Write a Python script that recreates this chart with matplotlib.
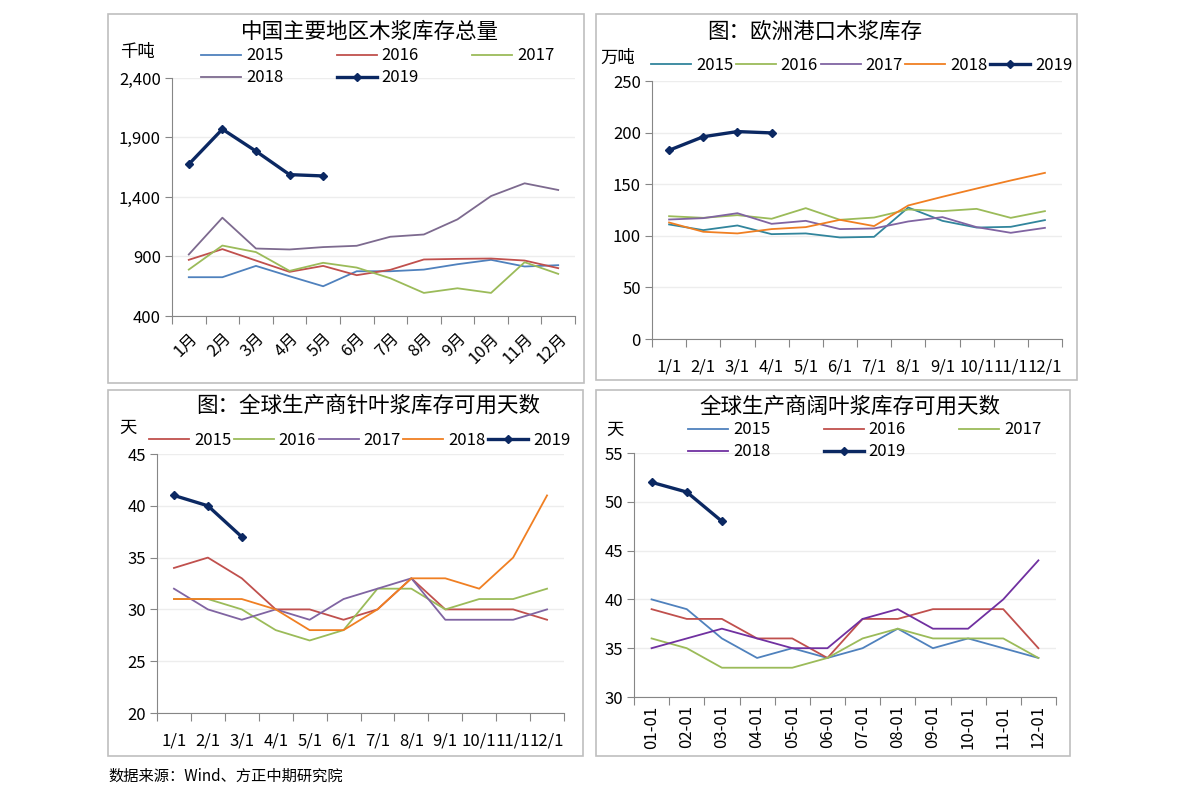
import matplotlib
matplotlib.use('Agg')
import matplotlib.pyplot as plt
from matplotlib.patches import Rectangle

plt.rcParams['font.family'] = ['Noto Sans CJK SC', 'DejaVu Sans']

W, H = 1191, 805

# ---------------- data ----------------
months_cn = ['1月', '2月', '3月', '4月', '5月', '6月', '7月', '8月', '9月', '10月', '11月', '12月']
months_slash = ['1/1', '2/1', '3/1', '4/1', '5/1', '6/1', '7/1', '8/1', '9/1', '10/1', '11/1', '12/1']
months_dash = ['01-01', '02-01', '03-01', '04-01', '05-01', '06-01',
               '07-01', '08-01', '09-01', '10-01', '11-01', '12-01']

# 中国主要地区木浆库存总量 (千吨)
cn_2015 = [726, 726, 821, 734, 650, 776, 776, 790, 835, 872, 816, 827]
cn_2016 = [872, 962, 866, 771, 821, 743, 788, 875, 880, 883, 866, 802]
cn_2017 = [790, 992, 937, 779, 847, 807, 717, 594, 633, 594, 852, 754]
cn_2018 = [917, 1226, 967, 959, 979, 990, 1066, 1085, 1212, 1408, 1515, 1459]
cn_2019 = [1675, 1970, 1785, 1588, 1577]

# 欧洲港口木浆库存 (万吨)
eu_2015 = [111, 105.5, 110, 101.6, 102.3, 98.4, 99, 127.4, 114.5, 108, 108.7, 115.2]
eu_2016 = [119, 117.4, 120, 116.5, 126.8, 115.5, 117.7, 125.5, 123.9, 126.1, 117.4, 123.9]
eu_2017 = [115.8, 117.1, 121.9, 111.6, 114.5, 106.5, 107.1, 113.9, 118.1, 108.4, 102.9, 107.7]
eu_2018 = [112.9, 103.9, 102.3, 106.5, 108.4, 115.5, 109.4, 129.4, 137.8, 145.8, 153.6, 161]
eu_2019 = [182.9, 196, 201, 199.7]

# 全球生产商针叶浆库存可用天数
sw_2015 = [34, 35, 33, 30, 30, 29, 30, 33, 30, 30, 30, 29]
sw_2016 = [31, 31, 30, 28, 27, 28, 32, 32, 30, 31, 31, 32]
sw_2017 = [32, 30, 29, 30, 29, 31, 32, 33, 29, 29, 29, 30]
sw_2018 = [31, 31, 31, 30, 28, 28, 30, 33, 33, 32, 35, 41]
sw_2019 = [41, 40, 37]

# 全球生产商阔叶浆库存可用天数
hw_2015 = [40, 39, 36, 34, 35, 34, 35, 37, 35, 36, 35, 34]
hw_2016 = [39, 38, 38, 36, 36, 34, 38, 38, 39, 39, 39, 35]
hw_2017 = [36, 35, 33, 33, 33, 34, 36, 37, 36, 36, 36, 34]
hw_2018 = [35, 36, 37, 36, 35, 35, 38, 39, 37, 37, 40, 44]
hw_2019 = [52, 51, 48]

years = ['2015', '2016', '2017', '2018', '2019']
NAVY = '#0B2862'

fig = plt.figure(figsize=(W / 100, H / 100), dpi=100)


def px_axes(x0, y0, x1, y1):
    return fig.add_axes([x0 / W, 1 - y1 / H, (x1 - x0) / W, (y1 - y0) / H])


def box(x0, y0, x1, y1):
    fig.patches.append(Rectangle((x0 / W, 1 - y1 / H), (x1 - x0) / W, (y1 - y0) / H,
                                 transform=fig.transFigure, fill=False,
                                 edgecolor='#BFBFBF', linewidth=1.2))


def ftext(x, y, s, **kw):
    fig.text(x / W, 1 - y / H, s, **kw)


def draw_panel(ax, series, colors, ylim, yticks, labels, yfmt=None):
    lines = []
    for i, (vals, col) in enumerate(zip(series, colors)):
        xs = list(range(len(vals)))
        if i == len(series) - 1:
            ln, = ax.plot(xs, vals, color=col, linewidth=2.4, marker='D', markersize=4, zorder=5)
        else:
            ln, = ax.plot(xs, vals, color=col, linewidth=1.3, zorder=3)
        lines.append(ln)
    ax.set_xlim(-0.5, 11.5)
    ax.set_ylim(*ylim)
    ax.set_yticks(yticks)
    if yfmt:
        ax.set_yticklabels([yfmt(v) for v in yticks])
    ax.set_xticks([i - 0.5 for i in range(13)])
    ax.set_xticklabels([])
    ax.set_xticks(range(12), minor=True)
    ax.set_xticklabels(labels, minor=True)
    ax.tick_params(axis='x', which='major', length=6, color='#868686', direction='out')
    ax.tick_params(axis='x', which='minor', length=0, labelsize=12, pad=6)
    ax.tick_params(axis='y', length=5, color='#868686', labelsize=12, pad=3)
    ax.grid(axis='y', color='#EDEDED', linewidth=1)
    ax.set_axisbelow(True)
    for s in ['top', 'right']:
        ax.spines[s].set_visible(False)
    for s in ['left', 'bottom']:
        ax.spines[s].set_color('#868686')
    ax.patch.set_alpha(0)
    return lines


def legend_rows(lines, x, y, ncol, colsp):
    # matplotlib fills legends column by column; reorder so rows read 2015..2019
    if ncol == 3:
        order = [0, 3, 1, 4, 2]
    else:
        order = list(range(len(lines)))
    fig.legend([lines[i] for i in order], [years[i] for i in order], ncol=ncol,
               loc='center left', bbox_to_anchor=(x / W, 1 - y / H),
               frameon=False, fontsize=12, handlelength=2.4, handletextpad=0.3,
               columnspacing=colsp, borderaxespad=0, borderpad=0, labelspacing=0.3)


title_kw = dict(fontsize=15.5, fontweight='medium', ha='center', va='center')

# ---------------- panel 1 ----------------
box(108, 14, 584, 383)
ax1 = px_axes(172, 78, 575, 316)
l1 = draw_panel(ax1, [cn_2015, cn_2016, cn_2017, cn_2018, cn_2019],
                ['#4F81BD', '#C0504D', '#9BBB59', '#7D6A8F', NAVY],
                (400, 2400), [400, 900, 1400, 1900, 2400], months_cn,
                yfmt=lambda v: f'{v:,}')
ax1.tick_params(axis='x', which='minor', pad=10)
for t in ax1.get_xticklabels(minor=True):
    t.set_rotation(45)
    t.set_ha('right')
    t.set_rotation_mode('anchor')
ftext(370, 32, '中国主要地区木浆库存总量', **title_kw)
ftext(137, 52, '千吨', fontsize=12.5, ha='center', va='center')
legend_rows(l1, 201, 67, 3, 3.2)

# ---------------- panel 2 ----------------
box(596, 14, 1077, 380)
ax2 = px_axes(652, 81, 1062, 339)
l2 = draw_panel(ax2, [eu_2015, eu_2016, eu_2017, eu_2018, eu_2019],
                ['#31859C', '#9BBB59', '#8064A2', '#F07F22', NAVY],
                (0, 250), [0, 50, 100, 150, 200, 250], months_slash)
ax2.tick_params(axis='x', which='minor', pad=14)
ftext(815, 32, '图：欧洲港口木浆库存', **title_kw)
ftext(618, 58, '万吨', fontsize=12.5, ha='center', va='center')
legend_rows(l2, 651, 65, 5, 0.15)

# ---------------- panel 3 ----------------
box(108, 390, 583, 756)
ax3 = px_axes(157, 454, 564, 713)
l3 = draw_panel(ax3, [sw_2015, sw_2016, sw_2017, sw_2018, sw_2019],
                ['#C0504D', '#9BBB59', '#8064A2', '#F07F22', NAVY],
                (20, 45), [20, 25, 30, 35, 40, 45], months_slash)
ax3.tick_params(axis='x', which='minor', pad=14)
ftext(368, 406, '图：全球生产商针叶浆库存可用天数', **title_kw)
ftext(128, 428, '天', fontsize=12.5, ha='center', va='center')
legend_rows(l3, 149, 440, 5, 0.15)

# ---------------- panel 4 ----------------
box(596, 390, 1070, 756)
ax4 = px_axes(634, 453, 1056, 697)
l4 = draw_panel(ax4, [hw_2015, hw_2016, hw_2017, hw_2018, hw_2019],
                ['#4F81BD', '#C0504D', '#9BBB59', '#7030A0', NAVY],
                (30, 55), [30, 35, 40, 45, 50, 55], months_dash)
for t in ax4.get_xticklabels(minor=True):
    t.set_rotation(90)
ftext(850, 407, '全球生产商阔叶浆库存可用天数', **title_kw)
ftext(615, 430, '天', fontsize=12.5, ha='center', va='center')
legend_rows(l4, 688, 441, 3, 3.2)

ftext(108, 776, '数据来源：Wind、方正中期研究院', fontsize=11, ha='left', va='center')

fig.savefig('out.png', dpi=100)
